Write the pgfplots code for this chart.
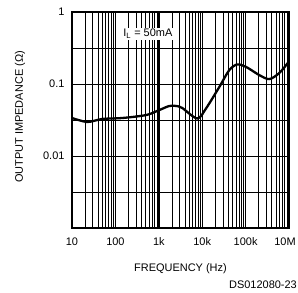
\documentclass[border=0pt]{standalone}
\usepackage{fontspec}
\setmainfont{Liberation Sans}
\usepackage{pgfplots}
\pgfplotsset{compat=1.18}
\begin{document}
\begin{tikzpicture}[x=1bp,y=1bp]
\path[use as bounding box] (0,0) rectangle (298,293);
\begin{axis}[
  at={(72bp,65bp)}, anchor=south west,
  scale only axis, width=217bp, height=216bp,
  xmode=log, ymode=log,
  xmin=10, xmax=1e6, ymin=0.001, ymax=1,
  xtick={10,100,1000,10000,100000,1000000},
  xticklabels={10,100,1k,10k,100k,\hspace*{-8bp}10M},
  ytick={0.001,0.01,0.1,1},
  yticklabels={,0.01,0.1,1},
  minor ytick={0.00316,0.0316,0.316},
  grid=both,
  major grid style={black, line width=0.7bp},
  minor grid style={black, line width=0.6bp},
  major tick length=0pt, minor tick length=0pt,
  axis line style={line width=1.3bp},
  tick label style={font=\fontsize{11}{13}\selectfont},
  xticklabel style={yshift=-6bp},
  yticklabel style={xshift=-4bp},
  /pgf/number format/assume math mode=true,
]
\addplot[black, line width=2.3bp, smooth] coordinates {
(10,0.0337) (22.5,0.0297) (50,0.0327) (144,0.0337) (515,0.0371)
(1028,0.0435) (1746,0.0495) (2530,0.0495) (3477,0.0464) (7710,0.0332)
(12420,0.0464) (24770,0.0908) (42100,0.156) (64400,0.187) (103800,0.172)
(206800,0.133) (351700,0.117) (598000,0.142) (937000,0.196)
};
\node[fill=white, inner sep=1.5bp, font=\fontsize{11}{13}\selectfont] at (axis cs:560,0.5) {I\textsubscript{L} = 50mA};
\end{axis}
\node[font=\fontsize{11}{13}\selectfont] at (180.5,24) {FREQUENCY (Hz)};
\node[rotate=90, font=\fontsize{11}{13}\selectfont] at (20,176) {OUTPUT IMPEDANCE (Ω)};
\node[anchor=east, font=\fontsize{11}{13}\selectfont, inner sep=1bp] at (298,8) {DS012080-23};
\end{tikzpicture}
\end{document}
